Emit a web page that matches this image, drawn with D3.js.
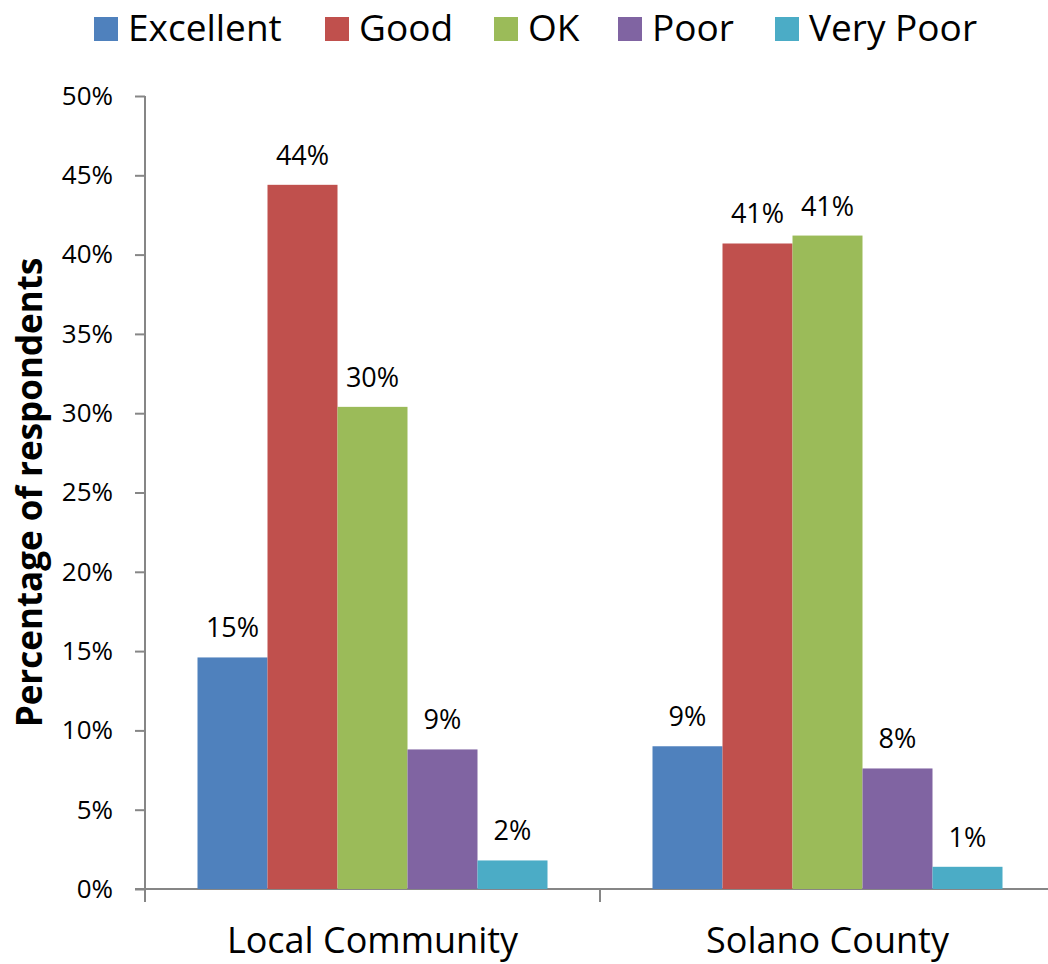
<!DOCTYPE html>
<html>
<head>
<meta charset="utf-8">
<script src="https://cdn.jsdelivr.net/npm/d3@7"></script>
<style>
  body { margin: 0; background: #fff; }
  svg text { font-family: "Open Sans", sans-serif; fill: #000; }
</style>
</head>
<body>
<svg id="chart" width="1048" height="964"></svg>
<script>
const categories = ['Local Community', 'Solano County'];
const seriesNames = ['Excellent', 'Good', 'OK', 'Poor', 'Very Poor'];
const localValues = [14.6, 44.4, 30.4, 8.8, 1.8];
const solanoValues = [9.0, 40.7, 41.2, 7.6, 1.4];
const yTicks = [0, 5, 10, 15, 20, 25, 30, 35, 40, 45, 50];
const colors = ['#4f81bd', '#c0504d', '#9bbb59', '#8064a2', '#4bacc6'];

const data = categories.map((c, i) => ({
  category: c,
  values: (i === 0 ? localValues : solanoValues).map((v, j) => ({ name: seriesNames[j], value: v }))
}));

const svg = d3.select('#chart');
const plotLeft = 145, plotRight = 1055, plotTop = 96, plotBottom = 889;
const axisColor = '#868686';

const x0 = d3.scaleBand().domain(categories).range([plotLeft, plotRight]).padding(0);
const x1 = d3.scaleBand().domain(seriesNames).range([0, x0.bandwidth()]).paddingInner(0).paddingOuter(0.75);
const y = d3.scaleLinear().domain([0, 50]).range([plotBottom, plotTop]);
const color = d3.scaleOrdinal().domain(seriesNames).range(colors);

// y axis
const yAxis = svg.append('g')
  .attr('transform', `translate(${plotLeft},0)`)
  .call(d3.axisLeft(y).tickValues(yTicks).tickSize(10).tickPadding(22).tickFormat(d => d + '%'));
yAxis.select('.domain').attr('stroke', axisColor).attr('stroke-width', 2).attr('d', `M0,${plotTop}V${plotBottom + 13}`);
yAxis.selectAll('.tick line').attr('stroke', axisColor).attr('stroke-width', 2);
yAxis.selectAll('.tick text').style('font-size', '26px').attr('fill', '#000');

// x axis
const xAxis = svg.append('g')
  .attr('transform', `translate(0,${plotBottom})`)
  .call(d3.axisBottom(x0).tickSize(0).tickPadding(64));
xAxis.select('.domain').attr('stroke', axisColor).attr('stroke-width', 2).attr('d', `M${plotLeft - 10},0H${plotRight}`);
xAxis.selectAll('.tick text').style('font-size', '36px').attr('dy', 0).attr('fill', '#000');
xAxis.selectAll('.boundary')
  .data(categories.slice(1))
  .enter().append('line')
  .attr('x1', d => x0(d)).attr('x2', d => x0(d))
  .attr('y1', 0).attr('y2', 13)
  .attr('stroke', axisColor).attr('stroke-width', 2);

// bars
const groups = svg.append('g').selectAll('g')
  .data(data).enter().append('g')
  .attr('transform', d => `translate(${x0(d.category)},0)`);

groups.selectAll('rect')
  .data(d => d.values).enter().append('rect')
  .attr('x', d => x1(d.name))
  .attr('y', d => y(d.value))
  .attr('width', x1.bandwidth())
  .attr('height', d => y(0) - y(d.value))
  .attr('fill', d => color(d.name));

groups.selectAll('text.label')
  .data(d => d.values).enter().append('text')
  .attr('class', 'label')
  .attr('x', d => x1(d.name) + x1.bandwidth() / 2)
  .attr('y', d => y(d.value) - 20)
  .attr('text-anchor', 'middle')
  .style('font-size', '27px')
  .text(d => Math.round(d.value) + '%');

// y title
svg.append('text')
  .attr('transform', `translate(42,${(plotTop + plotBottom) / 2}) rotate(-90)`)
  .attr('text-anchor', 'middle')
  .style('font-size', '35px')
  .style('font-weight', 'bold')
  .text('Percentage of respondents');

// legend
const legendX = [94, 325, 494, 618, 775];
const legend = svg.append('g').selectAll('g')
  .data(seriesNames).enter().append('g')
  .attr('transform', (d, i) => `translate(${legendX[i]},17)`);
legend.append('rect').attr('width', 24).attr('height', 24).attr('fill', d => color(d));
legend.append('text').attr('x', 34).attr('y', 24).style('font-size', '37px').text(d => d);
</script>
</body>
</html>
